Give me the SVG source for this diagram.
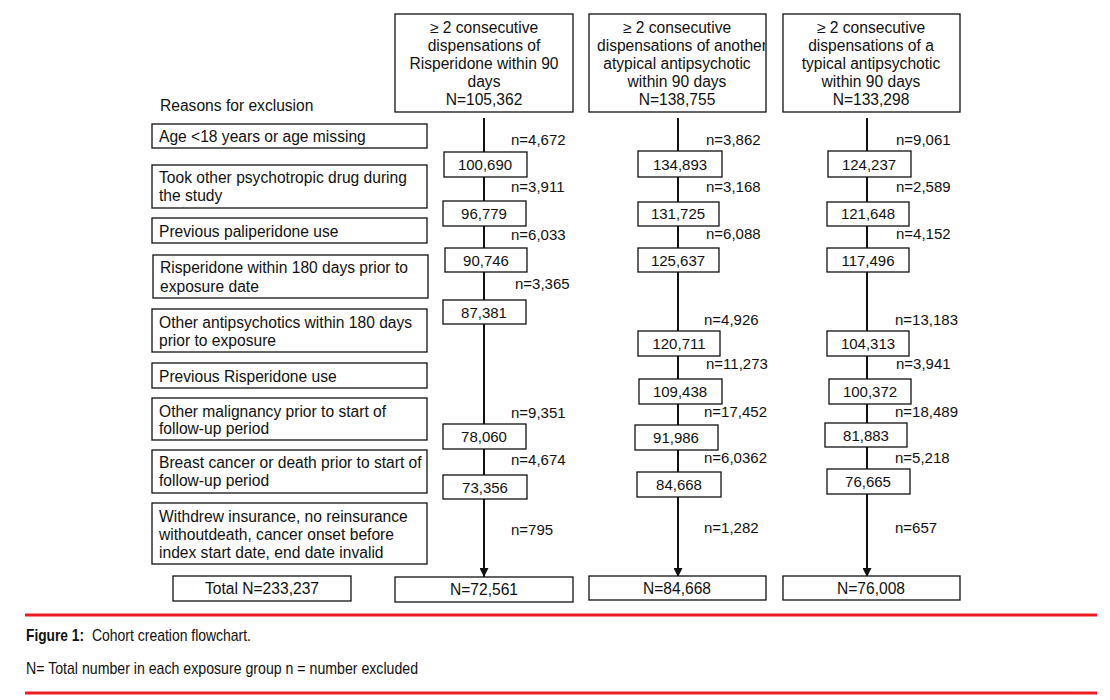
<svg xmlns="http://www.w3.org/2000/svg" width="1110" height="700" viewBox="0 0 1110 700">
<style>
text{font-family:"Liberation Sans",Arial,sans-serif;font-size:15px;fill:#111}
.c{text-anchor:middle}
.t{font-size:15.6px}
.b{fill:#fff;stroke:#111;stroke-width:1.3}
.ln{stroke:#111;stroke-width:2;fill:none}
.red{stroke:#ed1c24;stroke-width:3}
.cap{font-size:17px}
</style>
<defs>
<marker id="ah" viewBox="0 0 10 10" refX="10" refY="5" markerWidth="4.5" markerHeight="4.5" orient="auto"><path d="M0,0 L10,5 L0,10 z" fill="#111"/></marker>
<clipPath id="clip2"><rect x="589" y="14" width="176" height="98"/></clipPath>
</defs>
<rect width="1110" height="700" fill="#fff"/>
<g id="connectors">
<line class="ln" x1="484" y1="118" x2="484" y2="577" marker-end="url(#ah)"/>
<line class="ln" x1="678" y1="118" x2="678" y2="577" marker-end="url(#ah)"/>
<line class="ln" x1="867" y1="118" x2="867" y2="577" marker-end="url(#ah)"/>
</g>
<g id="top1"><rect class="b" x="395" y="14" width="178" height="98"/>
<text class="c t" x="484" y="33">≥ 2 consecutive</text><text class="c t" x="484" y="51">dispensations of</text><text class="c t" x="484" y="69">Risperidone within 90</text><text class="c t" x="484" y="87">days</text><text class="c t" x="484" y="105">N=105,362</text></g>
<g id="top2"><rect class="b" x="589" y="14" width="177" height="98"/>
<g clip-path="url(#clip2)"><text class="c t" x="677" y="33">≥ 2 consecutive</text><text class="t" x="597" y="51">dispensations of another</text><text class="c t" x="677" y="69">atypical antipsychotic</text><text class="c t" x="677" y="87">within 90 days</text><text class="c t" x="677" y="105">N=138,755</text></g></g>
<g id="top3"><rect class="b" x="783" y="14" width="177" height="98"/>
<text class="c t" x="871" y="33">≥ 2 consecutive</text><text class="c t" x="871" y="51">dispensations of a</text><text class="c t" x="871" y="69">typical antipsychotic</text><text class="c t" x="871" y="87">within 90 days</text><text class="c t" x="871" y="105">N=133,298</text></g>
<text class="t" x="160" y="111">Reasons for exclusion</text>
<g id="r1"><rect class="b" x="152" y="124" width="275" height="24"/><text class="t" x="159" y="142">Age &lt;18 years or age missing</text></g>
<g id="r2"><rect class="b" x="152" y="165" width="275" height="43"/><text class="t" x="159" y="183">Took other psychotropic drug during</text><text class="t" x="159" y="201">the study</text></g>
<g id="r3"><rect class="b" x="152" y="218" width="275" height="25"/><text class="t" x="159" y="237">Previous paliperidone use</text></g>
<g id="r4"><rect class="b" x="153" y="255" width="275" height="43"/><text class="t" x="160" y="273">Risperidone within 180 days prior to</text><text class="t" x="160" y="292">exposure date</text></g>
<g id="r5"><rect class="b" x="152" y="309" width="275" height="43"/><text class="t" x="159" y="328">Other antipsychotics within 180 days</text><text class="t" x="159" y="346">prior to exposure</text></g>
<g id="r6"><rect class="b" x="152" y="363" width="275" height="25"/><text class="t" x="159" y="382">Previous Risperidone use</text></g>
<g id="r7"><rect class="b" x="152" y="398" width="275" height="42"/><text class="t" x="159" y="417">Other malignancy prior to start of</text><text class="t" x="159" y="434">follow-up period</text></g>
<g id="r8"><rect class="b" x="152" y="450" width="275" height="43"/><text class="t" x="159" y="468">Breast cancer or death prior to start of</text><text class="t" x="159" y="486">follow-up period</text></g>
<g id="r9"><rect class="b" x="152" y="503" width="275" height="61"/><text class="t" x="159" y="522">Withdrew insurance, no reinsurance</text><text class="t" x="159" y="540">withoutdeath, cancer onset before</text><text class="t" x="159" y="558">index start date, end date invalid</text></g>
<g id="total"><rect class="b" x="173" y="576" width="178" height="25"/><text class="c t" x="262" y="594">Total N=233,237</text></g>
<g id="f1"><rect class="b" x="395" y="577" width="178" height="25"/><text class="c t" x="484" y="595">N=72,561</text></g>
<g id="f2"><rect class="b" x="589" y="576" width="177" height="24"/><text class="c t" x="677" y="594">N=84,668</text></g>
<g id="f3"><rect class="b" x="783" y="576" width="177" height="24"/><text class="c t" x="871" y="594">N=76,008</text></g>
<g id="col1">
<g id="a1"><rect class="b" x="444" y="152" width="83" height="25"/><text class="c" x="485" y="170">100,690</text></g>
<g id="a2"><rect class="b" x="443" y="201" width="83" height="25"/><text class="c" x="484" y="219">96,779</text></g>
<g id="a3"><rect class="b" x="445" y="248" width="82" height="24"/><text class="c" x="486" y="266">90,746</text></g>
<g id="a4"><rect class="b" x="443" y="300" width="83" height="24"/><text class="c" x="484" y="318">87,381</text></g>
<g id="a5"><rect class="b" x="443" y="424" width="83" height="25"/><text class="c" x="484" y="442">78,060</text></g>
<g id="a6"><rect class="b" x="443" y="475" width="84" height="24"/><text class="c" x="485" y="493">73,356</text></g>
<text x="511" y="145">n=4,672</text><text x="511" y="192">n=3,911</text><text x="511" y="240">n=6,033</text><text x="515" y="289">n=3,365</text><text x="511" y="418">n=9,351</text><text x="511" y="465">n=4,674</text><text x="511" y="535">n=795</text>
</g>
<g id="col2">
<g id="b1"><rect class="b" x="638" y="151" width="84" height="26"/><text class="c" x="680" y="170">134,893</text></g>
<g id="b2"><rect class="b" x="638" y="202" width="81" height="24"/><text class="c" x="678" y="219">131,725</text></g>
<g id="b3"><rect class="b" x="638" y="248" width="81" height="24"/><text class="c" x="678" y="266">125,637</text></g>
<g id="b4"><rect class="b" x="638" y="331" width="82" height="25"/><text class="c" x="679" y="349">120,711</text></g>
<g id="b5"><rect class="b" x="639" y="379" width="83" height="25"/><text class="c" x="680" y="397">109,438</text></g>
<g id="b6"><rect class="b" x="635" y="425" width="83" height="25"/><text class="c" x="676" y="443">91,986</text></g>
<g id="b7"><rect class="b" x="637" y="472" width="84" height="25"/><text class="c" x="679" y="490">84,668</text></g>
<text x="706" y="145">n=3,862</text><text x="706" y="192">n=3,168</text><text x="706" y="239">n=6,088</text><text x="704" y="325">n=4,926</text><text x="706" y="369">n=11,273</text><text x="704" y="417">n=17,452</text><text x="704" y="463">n=6,0362</text><text x="704" y="533">n=1,282</text>
</g>
<g id="col3">
<g id="c1"><rect class="b" x="828" y="151" width="83" height="26"/><text class="c" x="869" y="170">124,237</text></g>
<g id="c2"><rect class="b" x="827" y="202" width="82" height="24"/><text class="c" x="868" y="219">121,648</text></g>
<g id="c3"><rect class="b" x="827" y="248" width="82" height="24"/><text class="c" x="868" y="266">117,496</text></g>
<g id="c4"><rect class="b" x="827" y="331" width="82" height="25"/><text class="c" x="868" y="349">104,313</text></g>
<g id="c5"><rect class="b" x="829" y="379" width="82" height="25"/><text class="c" x="870" y="397">100,372</text></g>
<g id="c6"><rect class="b" x="825" y="423" width="82" height="24"/><text class="c" x="866" y="441">81,883</text></g>
<g id="c7"><rect class="b" x="827" y="469" width="83" height="25"/><text class="c" x="868" y="487">76,665</text></g>
<text x="896" y="145">n=9,061</text><text x="896" y="192">n=2,589</text><text x="896" y="239">n=4,152</text><text x="895" y="325">n=13,183</text><text x="896" y="369">n=3,941</text><text x="895" y="417">n=18,489</text><text x="895" y="463">n=5,218</text><text x="895" y="533">n=657</text>
</g>
<g id="caption">
<line class="red" x1="25" y1="615" x2="1097" y2="615"/>
<line class="red" x1="25" y1="693" x2="1097" y2="693"/>
<text class="cap" x="26" y="641" font-weight="bold" textLength="58" lengthAdjust="spacingAndGlyphs">Figure 1:</text>
<text class="cap" x="92" y="641" textLength="159" lengthAdjust="spacingAndGlyphs">Cohort creation flowchart.</text>
<text class="cap" x="26" y="674" textLength="392" lengthAdjust="spacingAndGlyphs">N= Total number in each exposure group n = number excluded</text>
</g>
</svg>
